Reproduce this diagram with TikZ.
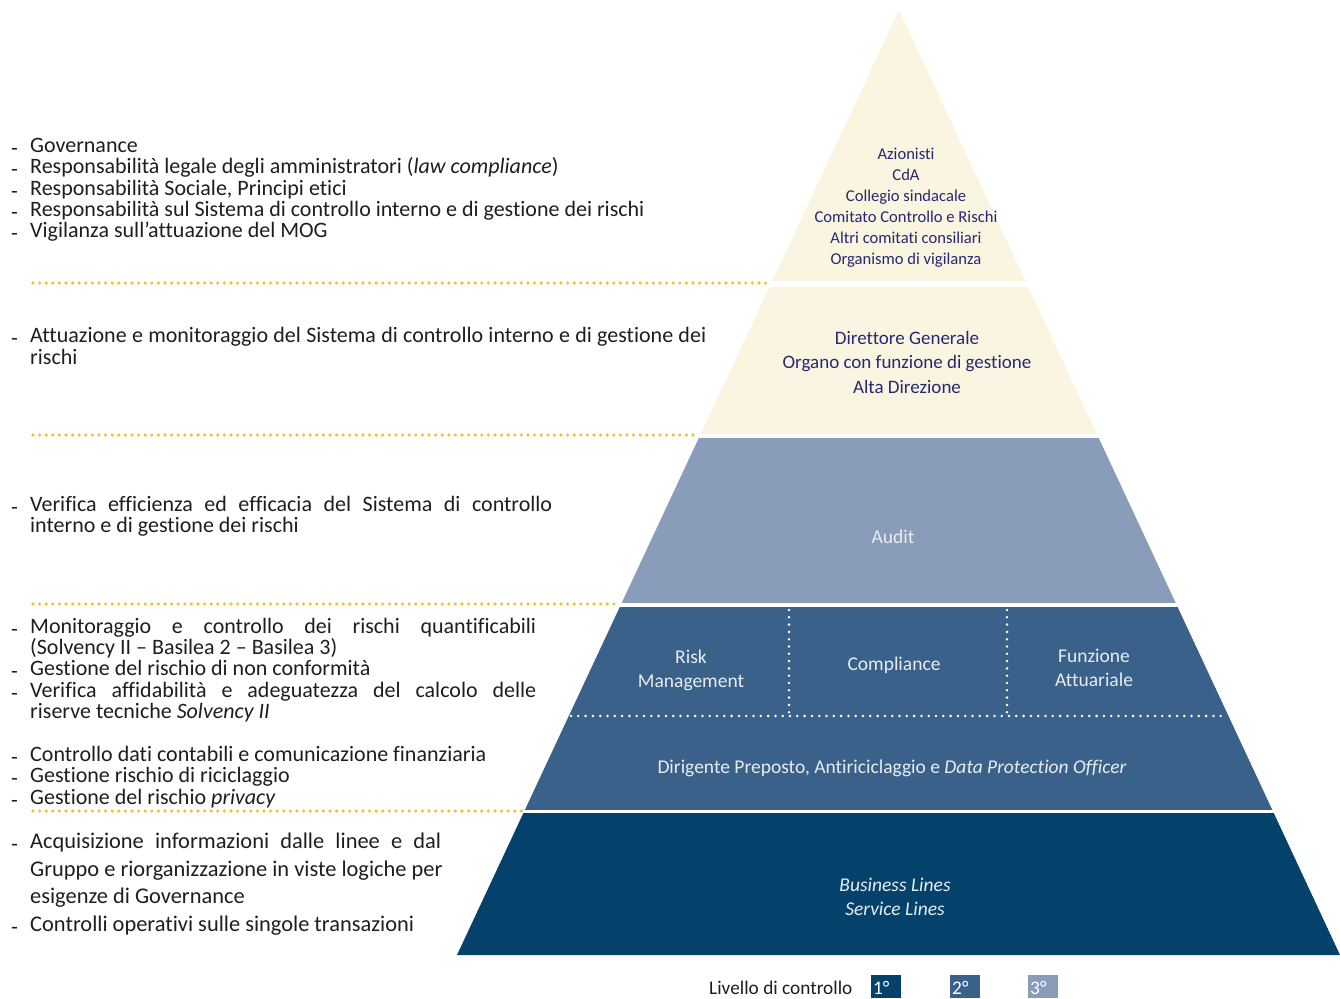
\documentclass[tikz,border=0pt]{standalone}
\usepackage{fontspec}
\setmainfont{Carlito}[Ligatures=NoCommon]
\definecolor{cream}{HTML}{FAF5E1}
\definecolor{lblue}{HTML}{899DBB}
\definecolor{mblue}{HTML}{3A6189}
\definecolor{dblue}{HTML}{05426B}
\definecolor{gold}{HTML}{F0C23C}
\definecolor{navy}{HTML}{27286F}
\definecolor{textc}{HTML}{1E1E1E}
\definecolor{pale}{HTML}{E8ECF2}
\newcommand\dsh{\llap{\makebox[19pt][l]{\raisebox{-3pt}{-}}}}
\begin{document}
\begin{tikzpicture}[x=1pt,y=-1pt,
  lt/.style={anchor=base west,inner sep=0pt,text=textc,font=\fontsize{22}{21}\selectfont},
  lt6/.style={anchor=base west,inner sep=0pt,text=textc,font=\fontsize{22.4}{21}\selectfont},
  gdots/.style={draw=gold,line width=3.6pt,line cap=round,dash pattern=on 0pt off 6.6pt},
  wdots/.style={draw=white,line width=2.8pt,line cap=round,dash pattern=on 0pt off 7.3pt},
  ptop/.style={inner sep=0pt,text=navy,align=center,font=\fontsize{16.6}{21}\selectfont},
  pmid/.style={inner sep=0pt,text=navy,align=center,font=\fontsize{19}{24.5}\selectfont},
  plab/.style={inner sep=0pt,text=pale,align=center,font=\fontsize{19.5}{24}\selectfont},
  legtxt/.style={anchor=base west,inner sep=0pt,font=\fontsize{19.3}{21}\selectfont},
  legbox/.style={minimum width=30pt,minimum height=23pt,inner sep=0pt,anchor=north west}
]
\useasboundingbox (0,0) rectangle (1340,998);
\coordinate (apex) at (899,10);
\coordinate (bl) at (457,955);
\coordinate (br) at (1340,955);

% pyramid bands
\begin{scope}
\clip (apex) -- (br) -- (bl) -- cycle;
\fill[cream] (400,0) rectangle (1400,281);
\fill[cream] (400,287) rectangle (1400,434);
\fill[lblue] (400,438) rectangle (1400,603);
\fill[mblue] (400,607) rectangle (1400,810);
\fill[dblue] (400,813) rectangle (1400,960);
\end{scope}

% white dotted separators in second level
\coordinate (h1) at (571,716);
\coordinate (h2) at (1226,716);
\coordinate (v1a) at (789,610);
\coordinate (v1b) at (789,716);
\coordinate (v2a) at (1007,610);
\coordinate (v2b) at (1007,716);
\draw[wdots] (h1) -- (h2);
\draw[wdots] (v1a) -- (v1b);
\draw[wdots] (v2a) -- (v2b);

% gold dotted lines
\coordinate (g1a) at (33,283); \coordinate (g1b) at (770,283);
\coordinate (g2a) at (33,435); \coordinate (g2b) at (697,435);
\coordinate (g3a) at (33,604); \coordinate (g3b) at (619,604);
\coordinate (g4a) at (33,811); \coordinate (g4b) at (523,811);
\draw[gdots] (g1a) -- (g1b);
\draw[gdots] (g2a) -- (g2b);
\draw[gdots] (g3a) -- (g3b);
\draw[gdots] (g4a) -- (g4b);

% pyramid texts
\node[ptop] (t1) at (906,208) {Azionisti\\CdA\\Collegio sindacale\\Comitato Controllo e Rischi\\Altri comitati consiliari\\Organismo di vigilanza};
\node[pmid] (t2) at (907,362) {Direttore Generale\\Organo con funzione di gestione\\Alta Direzione};
\node[plab] (t3) at (893,537) {Audit};
\node[plab] (t4) at (691,670) {Risk\\Management};
\node[plab] (t5) at (894,665) {Compliance};
\node[plab] (t6) at (1094,668) {Funzione\\Attuariale};
\node[plab] (t7) at (892,768) {Dirigente Preposto, Antiriciclaggio e \textit{Data Protection Officer}};
\node[plab] (t8) at (895,897) {\textit{Business Lines}\\\textit{Service Lines}};

% left texts
\node[lt] (a1) at (30,152) {\dsh Governance};
\node[lt] (a2) at (30,173) {\dsh Responsabilità legale degli amministratori (\textit{law compliance})};
\node[lt] (a3) at (30,195) {\dsh Responsabilità Sociale, Principi etici};
\node[lt] (a4) at (30,216) {\dsh Responsabilità sul Sistema di controllo interno e di gestione dei rischi};
\node[lt] (a5) at (30,237) {\dsh Vigilanza sull’attuazione del MOG};

\node[lt] (b1) at (30,342) {\dsh\makebox[676pt][s]{Attuazione e monitoraggio del Sistema di controllo interno e di gestione dei}};
\node[lt] (b2) at (30,364) {rischi};

\node[lt] (c1) at (30,511) {\dsh\makebox[522pt][s]{Verifica efficienza ed efficacia del Sistema di controllo}};
\node[lt] (c2) at (30,532) {interno e di gestione dei rischi};

\node[lt] (d1) at (30,633) {\dsh\makebox[506pt][s]{Monitoraggio e controllo dei rischi quantificabili}};
\node[lt] (d2) at (30,654) {(Solvency II – Basilea 2 – Basilea 3)};
\node[lt] (d3) at (30,675) {\dsh Gestione del rischio di non conformità};
\node[lt] (d4) at (30,697) {\dsh\makebox[506pt][s]{Verifica affidabilità e adeguatezza del calcolo delle}};
\node[lt] (d5) at (30,718) {riserve tecniche \textit{Solvency II}};

\node[lt] (e1) at (30,761) {\dsh Controllo dati contabili e comunicazione finanziaria};
\node[lt] (e2) at (30,782) {\dsh Gestione rischio di riciclaggio};
\node[lt] (e3) at (30,804) {\dsh Gestione del rischio \textit{privacy}};

\node[lt6] (f1) at (30,848) {\dsh\makebox[411pt][s]{Acquisizione informazioni dalle linee e dal}};
\node[lt6] (f2) at (30,876) {Gruppo e riorganizzazione in viste logiche per};
\node[lt6] (f3) at (30,903) {esigenze di Governance};
\node[lt6] (f4) at (30,931) {\dsh Controlli operativi sulle singole transazioni};

% legend
\node[legtxt,text=textc] (leg) at (709,994) {Livello di controllo};
\node[legbox,fill=dblue] (k1) at (871,975) {};
\node[legbox,fill=mblue] (k2) at (950,975) {};
\node[legbox,fill=lblue] (k3) at (1028,975) {};
\node[legtxt,text=white] (k1t) at (873,994) {1°};
\node[legtxt,text=white] (k2t) at (952,994) {2°};
\node[legtxt,text=white] (k3t) at (1030,994) {3°};
\end{tikzpicture}
\end{document}
